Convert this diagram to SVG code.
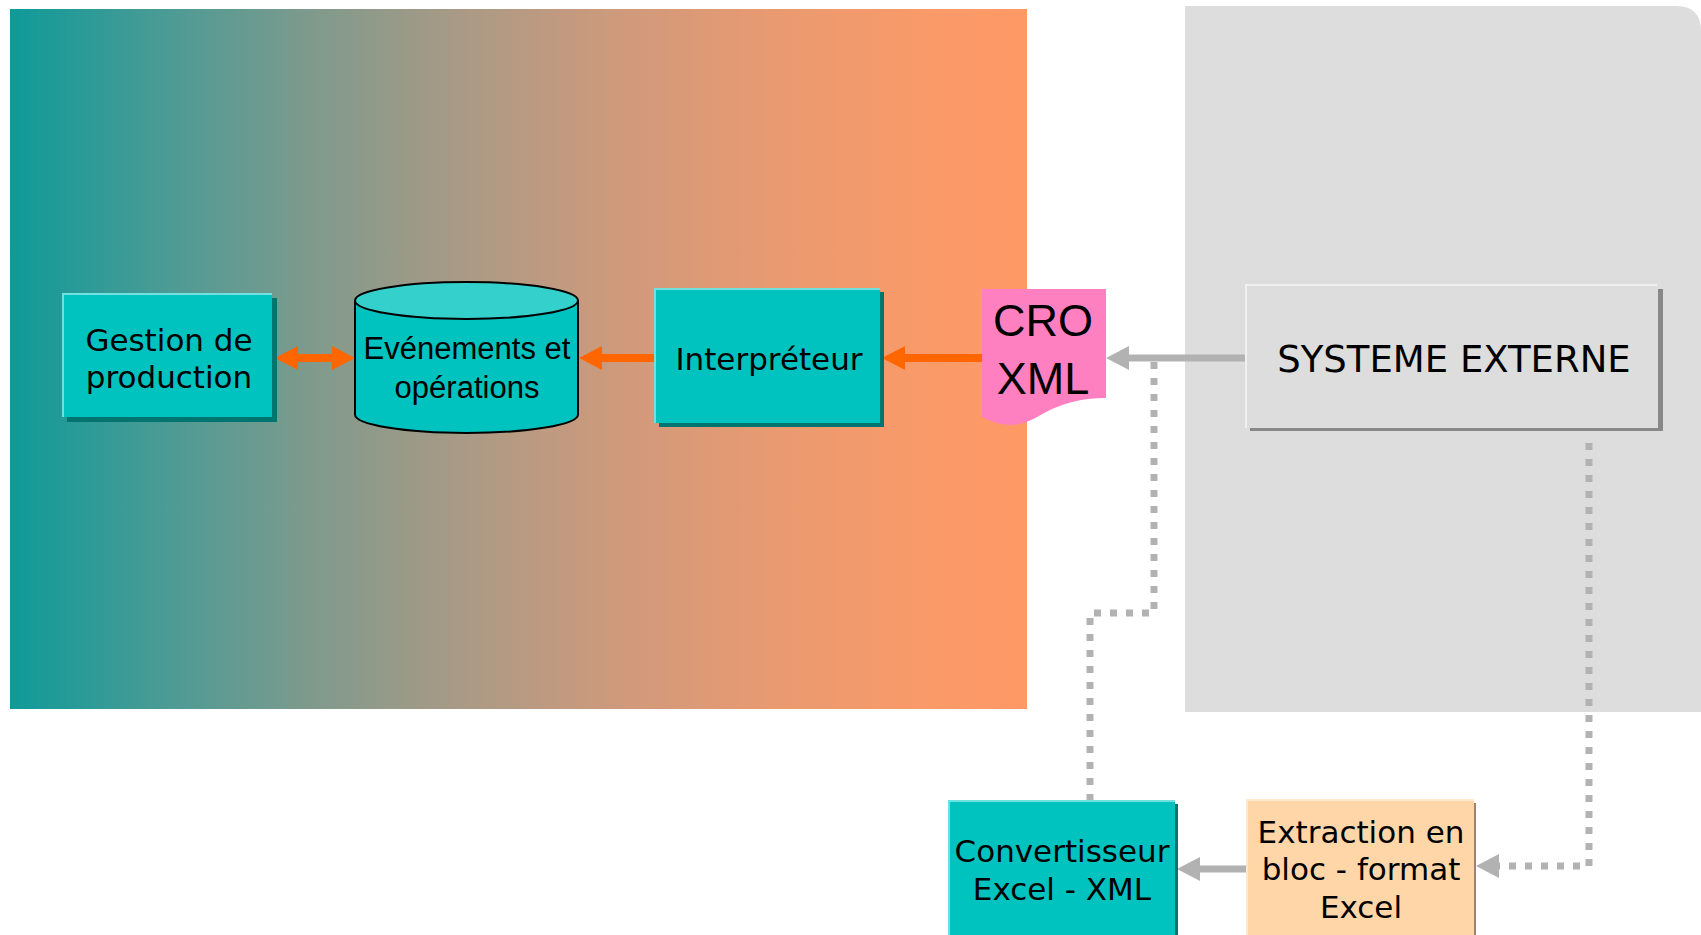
<svg xmlns="http://www.w3.org/2000/svg" width="1701" height="935" viewBox="0 0 1701 935">
<defs>
<linearGradient id="bg" x1="10" y1="0" x2="1027" y2="0" gradientUnits="userSpaceOnUse">
<stop offset="0" stop-color="#0f9a99"/>
<stop offset="0.15" stop-color="#4a9b95"/>
<stop offset="0.3" stop-color="#809a8c"/>
<stop offset="0.45" stop-color="#ab9a85"/>
<stop offset="0.6" stop-color="#cf9a7c"/>
<stop offset="0.75" stop-color="#e99a71"/>
<stop offset="0.9" stop-color="#f99a69"/>
<stop offset="1" stop-color="#ff9966"/>
</linearGradient>
<marker id="ao" markerUnits="userSpaceOnUse" markerWidth="24" markerHeight="24" refX="1" refY="12" orient="auto-start-reverse">
<path d="M0,0 L23,12 L0,24 Z" fill="#ff6600"/>
</marker>
<marker id="ag" markerUnits="userSpaceOnUse" markerWidth="25" markerHeight="26" refX="1" refY="13" orient="auto-start-reverse">
<path d="M0,1 L23,13 L0,25 Z" fill="#b2b2b2"/>
</marker>
</defs>
<style>
.teal{fill:#00c2be}
.tshadow{fill:#007570}
.thl{stroke:#70e0e0;stroke-width:2;fill:none}
.lbl{font-family:"DejaVu Sans",Verdana,sans-serif;font-size:31px;fill:#000;text-anchor:middle}
.lbl2{font-family:"Liberation Sans",Arial,sans-serif;fill:#000;text-anchor:middle}
.orange{stroke:#ff6600;stroke-width:8;fill:none}
.gray{stroke:#b2b2b2;stroke-width:7;fill:none}
.dots{stroke:#b2b2b2;stroke-width:7;fill:none;stroke-dasharray:7 9}
</style>

<rect x="10" y="9" width="1017" height="700" fill="url(#bg)"/>
<path d="M1185,6 H1676 Q1701,6 1701,31 V712 H1185 Z" fill="#dddddd"/>

<g id="connectors">
<path class="orange" d="M982,358 H904" marker-end="url(#ao)"/>
<path class="orange" d="M654,358 H601" marker-end="url(#ao)"/>
<path class="orange" d="M297,358 H333" marker-start="url(#ao)" marker-end="url(#ao)"/>
<path class="gray" d="M1246,358 H1128" marker-end="url(#ag)"/>
<path class="gray" d="M1247,869 H1199" marker-end="url(#ag)"/>
<path class="dots" d="M1589,443 V866 H1498" marker-end="url(#ag)"/>
<path class="dots" d="M1154,362 V613 H1090 V800"/>
</g>

<g id="gestion">
<rect class="tshadow" x="67" y="298" width="210" height="124"/>
<rect class="teal" x="62" y="293" width="210" height="124"/>
<path class="thl" d="M63,417 V294 H272"/>
<text class="lbl" x="169" y="351">Gestion de</text>
<text class="lbl" x="169" y="388">production</text>
</g>

<g id="evenements">
<path d="M355,300.5 V414.5 A111.5,18.5 0 0 0 578,414.5 V300.5" fill="#00c2be" stroke="#000" stroke-width="2"/>
<ellipse cx="466.5" cy="300.5" rx="111.5" ry="18.5" fill="#33d0cc" stroke="#000" stroke-width="2"/>
<text class="lbl2" x="467" y="359" font-size="31">Evénements et</text>
<text class="lbl2" x="467" y="398" font-size="31">opérations</text>
</g>

<g id="interpreteur">
<rect class="tshadow" x="659" y="292" width="225" height="135"/>
<rect class="teal" x="654" y="288" width="226" height="135"/>
<path class="thl" d="M655,423 V289 H880"/>
<text class="lbl" x="769" y="370">Interpréteur</text>
</g>

<g id="croxml">
<path d="M982,289 H1106 V398 C1080,398 1062,404 1046,412 C1032,420 1022,425 1011,425 C1000,425 990,421 982,417 Z" fill="#ff80c0"/>
<text class="lbl2" x="1043" y="336" font-size="45">CRO</text>
<text class="lbl2" x="1043" y="394" font-size="45">XML</text>
</g>

<g id="systeme">
<rect x="1250" y="289" width="413" height="142" fill="#888888"/>
<rect x="1245" y="284" width="413" height="144" fill="#dddddd"/>
<path d="M1246,428 V285 H1657" stroke="#f0f0f0" stroke-width="2" fill="none"/>
<text class="lbl" x="1454" y="372" font-size="37" style="font-size:37px">SYSTEME EXTERNE</text>
</g>

<g id="convertisseur">
<rect class="tshadow" x="953" y="804" width="225" height="140"/>
<rect class="teal" x="948" y="800" width="227" height="140"/>
<path class="thl" d="M949,940 V801 H1175"/>
<text class="lbl" x="1062" y="862">Convertisseur</text>
<text class="lbl" x="1062" y="900">Excel - XML</text>
</g>

<g id="extraction">
<rect x="1251" y="803" width="225" height="140" fill="#a08468"/>
<rect x="1246" y="799" width="228" height="140" fill="#ffd6a8"/>
<path d="M1247,940 V800 H1474" stroke="#ffe8cc" stroke-width="2" fill="none"/>
<text class="lbl" x="1361" y="843">Extraction en</text>
<text class="lbl" x="1361" y="880">bloc - format</text>
<text class="lbl" x="1361" y="918">Excel</text>
</g>
</svg>
